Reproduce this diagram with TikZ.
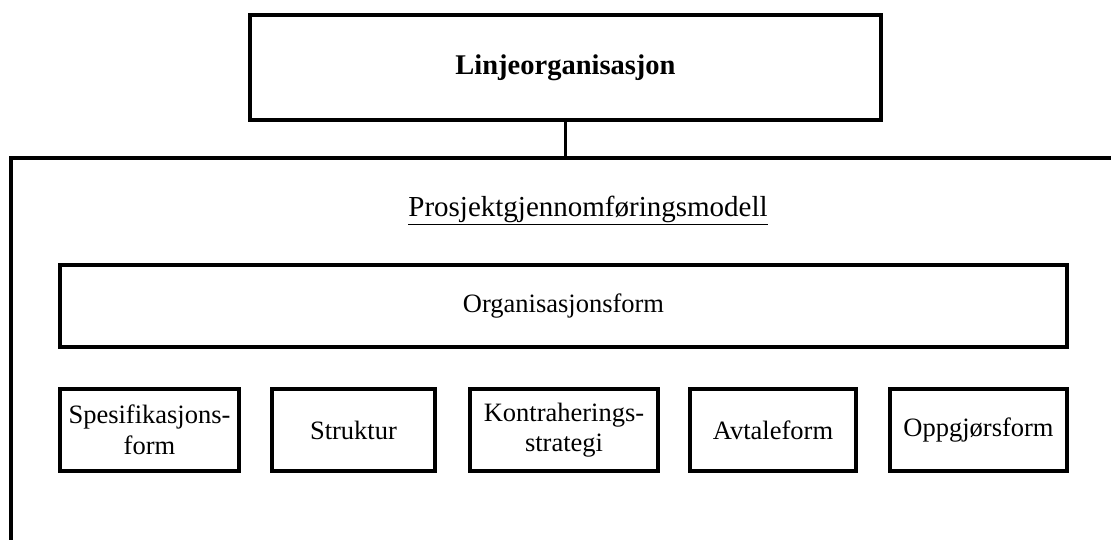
\documentclass[tikz,border=0pt]{standalone}
\usepackage{fontspec}
\setmainfont{Liberation Serif}
\begin{document}
\begin{tikzpicture}[x=1pt,y=-1pt,
  box/.style={draw,line width=3.8pt,inner sep=0pt,align=center,
    minimum height=82pt,font=\fontsize{26.5}{30.5}\selectfont},
  headbox/.style={draw,line width=3.8pt,inner sep=0pt,
    minimum width=631pt,minimum height=105pt,
    font=\fontsize{28.5}{32}\selectfont\bfseries},
  frameline/.style={line width=4pt},
  link/.style={line width=3pt},
  heading/.style={inner sep=0pt,font=\fontsize{29}{33}\selectfont}]
\useasboundingbox (0,0) rectangle (1111,540);

% line organisation at the top
\node[headbox] (lin) at (565.5,67.5) {Linjeorganisasjon};

% open frame of the project model
\coordinate (fcorner) at (11,158);
\coordinate (fbottom) at (11,542);
\coordinate (fright) at (1113,158);
\draw[frameline] (fbottom) -- (fcorner) -- (fright);
\draw[link] (lin.south) -- (lin.south |- fcorner);

\node[heading] (pgm) at (588,210) {\underline{Prosjektgjennomføringsmodell}};

% organisation form spanning the model
\node[box,minimum width=1007pt] (org) at (563.5,306) {Organisasjonsform};

% the five components
\node[box,minimum width=179pt] (spes) at (149.5,430) {Spesifikasjons-\\form};
\node[box,minimum width=163pt] (str) at (353.5,430) {Struktur};
\node[box,minimum width=188pt] (kon) at (564,430) {Kontraherings-\\strategi};
\node[box,minimum width=166pt] (avt) at (773,430) {Avtaleform};
\node[box,minimum width=177pt] (opp) at (978.5,430) {Oppgjørsform};
\end{tikzpicture}
\end{document}
